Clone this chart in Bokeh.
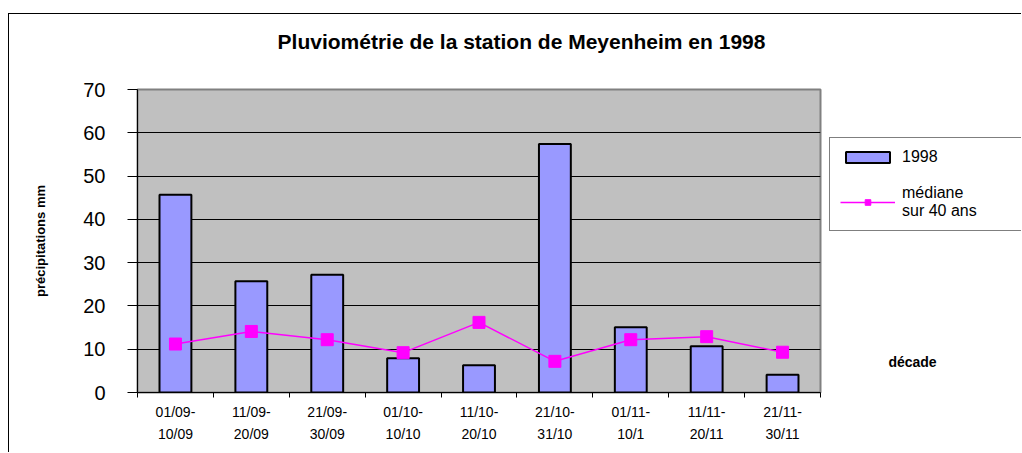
from bokeh.plotting import figure
from bokeh.models import (Range1d, FixedTicker, Legend, LegendItem, ColumnDataSource, Label, Row, Column)
from bokeh.embed import file_html
from bokeh.resources import INLINE

# ---- data ----
decades = ["01/09-\n10/09", "11/09-\n20/09", "21/09-\n30/09", "01/10-\n10/10", "11/10-\n20/10",
           "21/10-\n31/10", "01/11-\n10/1", "11/11-\n20/11", "21/11-\n30/11"]
pluie_1998 = [45.7, 25.7, 27.2, 7.9, 6.3, 57.4, 15.1, 10.7, 4.1]
mediane_40ans = [11.2, 14.1, 12.2, 9.2, 16.2, 7.2, 12.2, 12.9, 9.3]
y_ticks = [0, 10, 20, 30, 40, 50, 60, 70]

title_text = "Pluviométrie de la station de Meyenheim en 1998"
ylabel_text = "précipitations mm"
xlabel_text = "décade"
series_names = ["1998", "médiane\nsur 40 ans"]

FONT = "Liberation Sans"
BAR_FILL = "#9999FF"
MED_COLOR = "#FF00FF"

centers = [i + 0.5 for i in range(len(decades))]
bounds = [i for i in range(len(decades) + 1)]
src = ColumnDataSource(dict(x=centers, top=pluie_1998, med=mediane_40ans))


def blank(width, height, yspan):
    f = figure(width=width, height=height, output_backend="svg", toolbar_location=None,
               x_range=Range1d(0, width), y_range=Range1d(0, yspan),
               x_axis_location=None, y_axis_location=None,
               min_border_left=0, min_border_right=0, min_border_top=0, min_border_bottom=0)
    f.title.visible = False
    f.grid.visible = False
    f.outline_line_color = None
    f.background_fill_color = "white"
    f.border_fill_color = "white"
    return f


# ---- title strip ----
t = blank(1012, 63, 63)
t.add_layout(Label(x=512, y=36, text=title_text, text_align="center", text_baseline="middle",
                   text_font=FONT, text_font_style="bold", text_font_size="21px", text_color="black"))

# ---- main chart ----
p = figure(width=813, height=375, output_backend="svg", toolbar_location=None,
           x_range=Range1d(0, len(decades)), y_range=Range1d(0, 70),
           min_border_left=128, min_border_right=2, min_border_top=12, min_border_bottom=60)
p.title.visible = False
p.background_fill_color = "#C0C0C0"
p.border_fill_color = "white"
p.outline_line_color = "#808080"
p.outline_line_width = 2

p.vbar(x="x", top="top", width=0.42, source=src,
       fill_color=BAR_FILL, line_color="black", line_width=2)
p.line(x="x", y="med", source=src, line_color=MED_COLOR, line_width=1.5)
p.scatter(x="x", y="med", source=src, marker="square", size=12,
          fill_color=MED_COLOR, line_color=MED_COLOR)

p.xgrid.visible = False
p.ygrid.ticker = FixedTicker(ticks=[10, 20, 30, 40, 50, 60])
p.ygrid.grid_line_color = "black"
p.ygrid.grid_line_width = 1

p.yaxis.ticker = FixedTicker(ticks=y_ticks)
p.yaxis.axis_line_color = "black"
p.yaxis.major_tick_out = 10
p.yaxis.major_tick_in = 0
p.yaxis.minor_tick_line_color = None
p.yaxis.major_label_standoff = 22
p.yaxis.major_label_text_font = FONT
p.yaxis.major_label_text_font_size = "20px"
p.yaxis.major_label_text_color = "black"
p.yaxis.axis_label = ylabel_text
p.yaxis.axis_label_text_font = FONT
p.yaxis.axis_label_text_font_style = "bold"
p.yaxis.axis_label_text_font_size = "13px"
p.yaxis.axis_label_text_color = "black"
p.yaxis.axis_label_standoff = 32

p.xaxis.ticker = FixedTicker(ticks=centers, minor_ticks=bounds)
p.xaxis.major_label_overrides = {c: lab for c, lab in zip(centers, decades)}
p.xaxis.major_tick_out = 0
p.xaxis.major_tick_in = 0
p.xaxis.minor_tick_out = 5
p.xaxis.minor_tick_in = 0
p.xaxis.minor_tick_line_color = "black"
p.xaxis.axis_line_color = "black"
p.xaxis.major_label_standoff = 6
p.xaxis.major_label_text_font = FONT
p.xaxis.major_label_text_font_size = "14px"
p.xaxis.major_label_text_color = "black"
p.xaxis.major_label_text_line_height = 1.4

# ---- right strip: legend and x axis title (its frame lines up with the main frame) ----
q = blank(199, 375, 303)
lb = q.vbar(x="x", top="top", width=0.42, source=src, visible=False,
            fill_color=BAR_FILL, line_color="black", line_width=2)
ll = q.line(x="x", y="med", source=src, visible=False, line_color=MED_COLOR, line_width=1.5)
lm = q.scatter(x="x", y="med", source=src, visible=False, marker="square", size=12,
               fill_color=MED_COLOR, line_color=MED_COLOR)
legend = Legend(items=[LegendItem(label=series_names[0], renderers=[lb]),
                       LegendItem(label=series_names[1], renderers=[ll, lm])],
                location=(7, 161))
legend.border_line_color = "black"
legend.border_line_width = 1
legend.background_fill_color = "white"
legend.background_fill_alpha = 1
legend.inactive_fill_alpha = 0
legend.glyph_width = 55
legend.glyph_height = 14
legend.label_width = 118
legend.label_text_font = FONT
legend.label_text_font_size = "16px"
legend.label_text_color = "black"
legend.label_standoff = 7
legend.padding = 10
legend.spacing = 18
legend.margin = 0
q.add_layout(legend)
q.add_layout(Label(x=90, y=31, text=xlabel_text, text_align="center", text_baseline="middle",
                   text_font=FONT, text_font_style="bold", text_font_size="14px", text_color="black"))

layout = Column(children=[t, Row(children=[p, q], spacing=0)], spacing=0)
layout.styles = {"border-left": "1px solid black", "border-top": "1px solid black",
                 "margin-left": "8px", "margin-top": "13px"}

open("out.html", "w").write(file_html(layout, INLINE))
